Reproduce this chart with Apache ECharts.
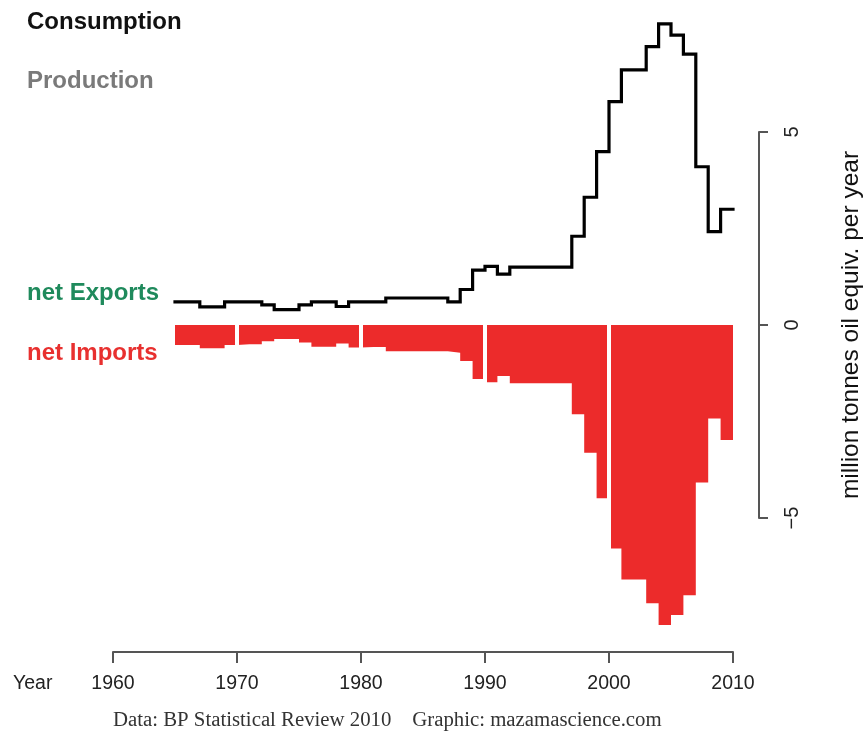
<!DOCTYPE html>
<html>
<head>
<meta charset="utf-8">
<script src="https://cdn.jsdelivr.net/npm/echarts@6/dist/echarts.min.js"></script>
<style>
html,body{margin:0;padding:0;background:#fff;}
#chart{width:865px;height:738px;}
</style>
</head>
<body>
<div id="chart"></div>
<script>
// ---- data (million tonnes oil equivalent per year) ----
var years = [1965,1966,1967,1968,1969,1970,1971,1972,1973,1974,1975,1976,1977,1978,1979,
             1980,1981,1982,1983,1984,1985,1986,1987,1988,1989,1990,1991,1992,1993,1994,
             1995,1996,1997,1998,1999,2000,2001,2002,2003,2004,2005,2006,2007,2008,2009];
var consumption = [0.60,0.60,0.47,0.47,0.60,0.60,0.60,0.52,0.40,0.40,0.52,0.60,0.60,0.48,0.60,
                   0.60,0.60,0.70,0.70,0.70,0.70,0.70,0.60,0.92,1.42,1.52,1.32,1.50,1.50,1.50,
                   1.50,1.50,2.30,3.31,4.49,5.79,6.61,6.61,7.21,7.80,7.51,7.02,4.10,2.42,3.00];
var netImports = [0.52,0.52,0.60,0.60,0.52,0.50,0.50,0.42,0.36,0.36,0.45,0.56,0.56,0.48,0.58,
                  0.57,0.57,0.68,0.68,0.68,0.68,0.68,0.72,0.93,1.40,1.48,1.32,1.51,1.51,1.51,
                  1.51,1.51,2.31,3.31,4.49,5.79,6.59,6.59,7.21,7.77,7.51,7.00,4.08,2.42,2.98];
var xTicks = [1960,1970,1980,1990,2000,2010];
var yTicks = [-5,0,5];
var decadeLines = [1970,1980,1990,2000];

// each value covers [year, year+1]; close the last step at year+1
var lastYear = years[years.length-1] + 1;
var consData = years.map(function(y,i){return [y, consumption[i]];});
consData.push([lastYear, consumption[consumption.length-1]]);
var impData = years.map(function(y,i){return [y, -netImports[i]];});
impData.push([lastYear, -netImports[netImports.length-1]]);

var FONT = 'Liberation Sans, Arial, Helvetica, sans-serif';
var chart = echarts.init(document.getElementById('chart'), null, {renderer:'canvas'});

chart.setOption({
  animation:false,
  backgroundColor:'#ffffff',
  title:[
    {text:'Consumption', left:27, top:10, padding:0, textStyle:{fontFamily:FONT, fontSize:24, fontWeight:'bold', color:'#111111'}},
    {text:'Production', left:27, top:69, padding:0, textStyle:{fontFamily:FONT, fontSize:24, fontWeight:'bold', color:'#7a7a7a'}},
    {text:'net Exports', left:27, top:281, padding:0, textStyle:{fontFamily:FONT, fontSize:24, fontWeight:'bold', color:'#1f8a5c'}},
    {text:'net Imports', left:27, top:341, padding:0, textStyle:{fontFamily:FONT, fontSize:24, fontWeight:'bold', color:'#e8302f'}},
    {text:'Year', left:13, top:674, padding:0, textStyle:{fontFamily:FONT, fontSize:19.5, fontWeight:'normal', color:'#222222'}},
    {text:'Data: BP Statistical Review 2010    Graphic: mazamascience.com', left:113, top:710, padding:0,
     textStyle:{fontFamily:'Liberation Serif, Times New Roman, serif', fontSize:20.8, fontWeight:'normal', color:'#333333'}}
  ],
  grid:[
    {left:113, width:620, top:0, height:652},
    {left:700, width:63, top:132, height:386}
  ],
  xAxis:[
    {type:'value', gridIndex:0, min:1960, max:2010, interval:10,
     axisLine:{show:true, onZero:false, lineStyle:{color:'#555555', width:2}},
     axisTick:{show:true, inside:false, length:11, lineStyle:{color:'#555555', width:2}},
     axisLabel:{fontFamily:FONT, fontSize:19.5, color:'#222222', margin:22,
       formatter:function(v){return xTicks.indexOf(v)>=0 ? String(v) : '';}},
     splitLine:{show:false}},
    {type:'value', gridIndex:1, min:0, max:1, show:false}
  ],
  yAxis:[
    {type:'value', gridIndex:0, min:-8.47, max:8.42, show:false},
    {type:'value', gridIndex:1, position:'right', min:-5, max:5, interval:5,
     axisLine:{show:true, onZero:false, lineStyle:{color:'#555555', width:2}},
     axisTick:{show:true, inside:false, length:9, lineStyle:{color:'#555555', width:2}},
     axisLabel:{fontFamily:FONT, fontSize:20, color:'#222222', rotate:90, margin:23,
       formatter:function(v){return yTicks.indexOf(v)>=0 ? String(v).replace('-', '\u2212') : '';}},
     splitLine:{show:false},
     name:'million tonnes oil equiv. per year', nameLocation:'middle', nameRotate:90, nameGap:80,
     nameTextStyle:{fontFamily:FONT, fontSize:24.5, color:'#111111'}}
  ],
  series:[
    {type:'line', name:'net Imports', xAxisIndex:0, yAxisIndex:0, data:impData, step:'end',
     symbol:'none', z:2,
     lineStyle:{width:0, color:'#ec2b2b'},
     areaStyle:{color:'#ec2b2b', opacity:1},
     markLine:{silent:true, symbol:['none','none'], label:{show:false},
       lineStyle:{color:'#ffffff', width:4, type:'solid'},
       data: decadeLines.map(function(d){return [{coord:[d,0]},{coord:[d,-8.0]}];})}},
    {type:'line', name:'Consumption', xAxisIndex:0, yAxisIndex:0, data:consData, step:'end',
     symbol:'none', z:5,
     lineStyle:{width:3.2, color:'#000000', join:'miter', cap:'square'}}
  ]
});
</script>
</body>
</html>
